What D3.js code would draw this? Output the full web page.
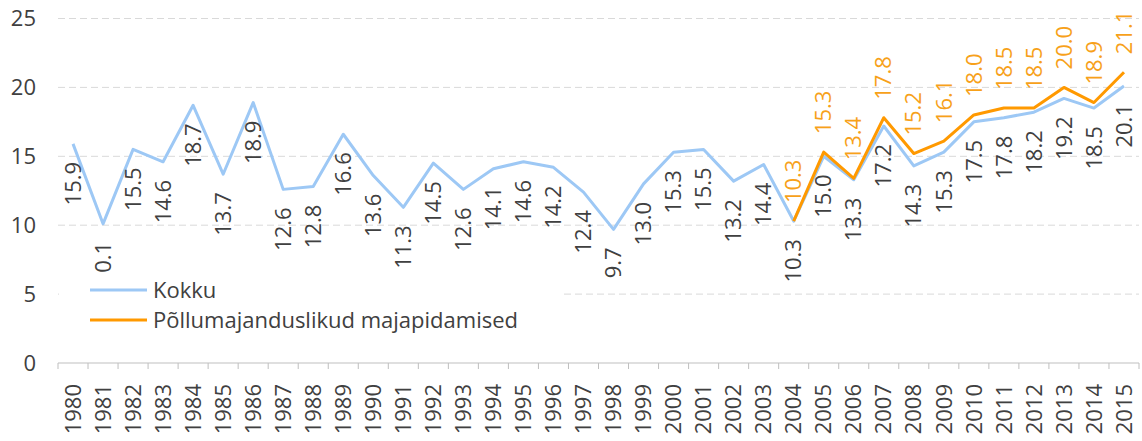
<!DOCTYPE html>
<meta charset="utf-8">
<style>
    body { margin: 0; background: #fff; }
    svg { font-family: "Open Sans", sans-serif; }
    .grid line { stroke: #d9d9d9; stroke-dasharray: 7,4; }
    .yaxis text, .xaxis text { fill: #404040; font-size: 22px; }
</style>
<body>
<script src="https://cdn.jsdelivr.net/npm/d3@7"></script>
<script>

    var years = d3.range(1980, 2016).map(String);

    var kokku = [15.9, 10.1, 15.5, 14.6, 18.7, 13.7, 18.9, 12.6, 12.8, 16.6,
        13.6, 11.3, 14.5, 12.6, 14.1, 14.6, 14.2, 12.4, 9.7, 13.0,
        15.3, 15.5, 13.2, 14.4, 10.3, 15.0, 13.3, 17.2, 14.3, 15.3,
        17.5, 17.8, 18.2, 19.2, 18.5, 20.1];

    var pollYears = d3.range(2004, 2016).map(String);
    var poll = [10.3, 15.3, 13.4, 17.8, 15.2, 16.1, 18.0, 18.5, 18.5, 20.0, 18.9, 21.1];

    var yTicks = [0, 5, 10, 15, 20, 25];

    var W = 1142, H = 441;
    var plotL = 58, plotR = 1139, plotT = 18.5, plotB = 363;

    var blue = "#9dc8f5", orange = "#ff9900", orangeText = "#f7a11a";

    var x = d3.scaleBand().domain(years).range([plotL, plotR]);
    var y = d3.scaleLinear().domain([0, 25]).range([plotB, plotT]);

    var svg = d3.select("body").append("svg")
        .attr("width", W)
        .attr("height", H);

    // gridlines
    svg.append("g").attr("class", "grid")
        .selectAll("line")
        .data(yTicks.filter(function (d) { return d > 0; }))
        .enter().append("line")
        .attr("x1", plotL).attr("x2", plotR)
        .attr("y1", function (d) { return y(d); })
        .attr("y2", function (d) { return y(d); });

    // y axis labels
    svg.append("g").attr("class", "yaxis")
        .selectAll("text")
        .data(yTicks)
        .enter().append("text")
        .attr("x", 36)
        .attr("y", function (d) { return y(d); })
        .attr("dy", "0.35em")
        .attr("text-anchor", "end")
        .text(function (d) { return d; });

    // x axis
    var xa = svg.append("g").attr("class", "xaxis");
    xa.append("line")
        .attr("x1", plotL).attr("x2", plotR)
        .attr("y1", plotB).attr("y2", plotB)
        .attr("stroke", "#bfbfbf");
    xa.selectAll(".tick")
        .data(d3.range(years.length + 1))
        .enter().append("line")
        .attr("x1", function (i) { return plotL + i * x.step(); })
        .attr("x2", function (i) { return plotL + i * x.step(); })
        .attr("y1", plotB).attr("y2", plotB + 6)
        .attr("stroke", "#bfbfbf");
    xa.selectAll("text")
        .data(years)
        .enter().append("text")
        .attr("transform", function (d) {
            return "translate(" + (x(d) + x.bandwidth() / 2) + "," + (plotB + 21) + ") rotate(-90)";
        })
        .attr("dy", "0.35em")
        .attr("text-anchor", "end")
        .text(function (d) { return d; });

    var line = d3.line()
        .x(function (d) { return x(d.year) + x.bandwidth() / 2; })
        .y(function (d) { return y(d.v); });

    var kData = years.map(function (yr, i) { return { year: yr, v: kokku[i] }; });
    var pData = pollYears.map(function (yr, i) { return { year: yr, v: poll[i] }; });

    svg.append("path").datum(kData)
        .attr("fill", "none").attr("stroke", blue).attr("stroke-width", 3)
        .attr("stroke-linejoin", "round")
        .attr("d", line);

    svg.append("path").datum(pData)
        .attr("fill", "none").attr("stroke", orange).attr("stroke-width", 3)
        .attr("stroke-linejoin", "round")
        .attr("d", line);

    // data labels
    svg.append("g").selectAll("text")
        .data(kData)
        .enter().append("text")
        .attr("transform", function (d) {
            return "translate(" + (x(d.year) + x.bandwidth() / 2) + "," + (y(d.v) + 18) + ") rotate(-90)";
        })
        .attr("dy", "0.35em")
        .attr("text-anchor", "end")
        .attr("font-size", 22)
        .attr("fill", "#404040")
        .text(function (d) { return d.v.toFixed(1); });

    svg.append("g").selectAll("text")
        .data(pData)
        .enter().append("text")
        .attr("transform", function (d) {
            return "translate(" + (x(d.year) + x.bandwidth() / 2) + "," + (y(d.v) - 18) + ") rotate(-90)";
        })
        .attr("dy", "0.35em")
        .attr("text-anchor", "start")
        .attr("font-size", 22)
        .attr("fill", orangeText)
        .text(function (d) { return d.v.toFixed(1); });

    // legend
    var legend = svg.append("g");
    legend.append("rect")
        .attr("x", plotL + 1).attr("y", 272)
        .attr("width", 505).attr("height", 66)
        .attr("fill", "#fff");
    var items = [["Kokku", blue], ["Põllumajanduslikud majapidamised", orange]];
    items.forEach(function (it, i) {
        var ly = 290 + i * 30;
        legend.append("line")
            .attr("x1", 90).attr("x2", 147)
            .attr("y1", ly).attr("y2", ly)
            .attr("stroke", it[1]).attr("stroke-width", 3);
        legend.append("text")
            .attr("x", 153).attr("y", ly)
            .attr("dy", "0.35em")
            .attr("font-size", 22)
            .attr("fill", "#404040")
            .text(it[0]);
    });

</script>
</body>
